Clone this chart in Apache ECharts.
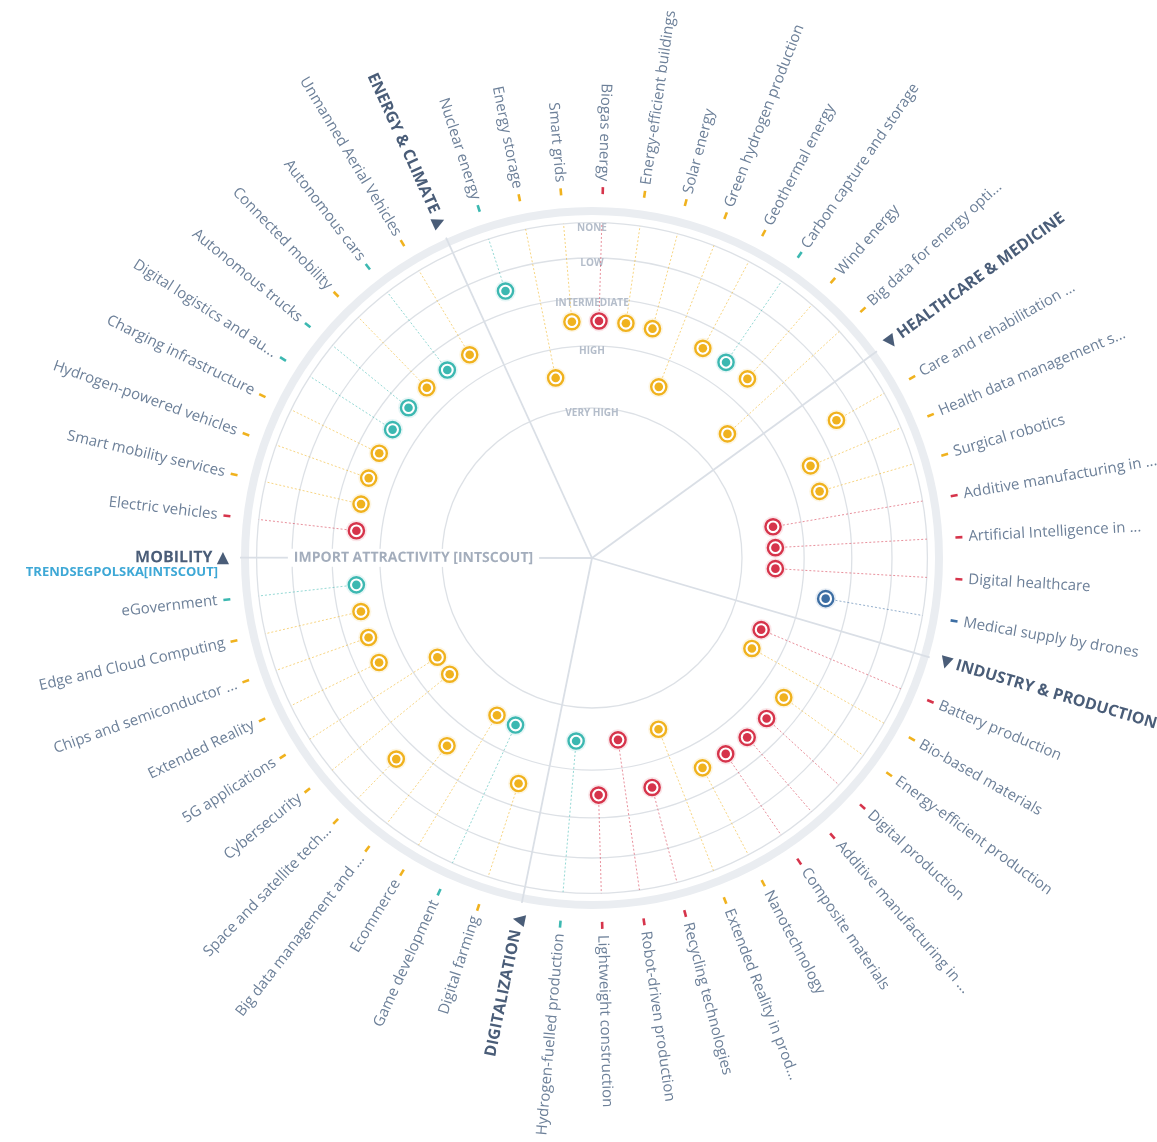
<!DOCTYPE html>
<html><head><meta charset="utf-8">
<script src="https://cdn.jsdelivr.net/npm/echarts@6/dist/echarts.min.js"></script>
<style>html,body{margin:0;padding:0;background:#fff}#c{width:1157px;height:1142px}</style>
</head><body><div id="c"></div><script>
// ---------- data ----------
const levelLabels = ['VERY HIGH', 'HIGH', 'INTERMEDIATE', 'LOW', 'NONE'];
const sectorNames = ['ENERGY & CLIMATE', 'HEALTHCARE & MEDICINE', 'INDUSTRY & PRODUCTION', 'DIGITALIZATION', 'MOBILITY'];
const axisTitle = 'IMPORT ATTRACTIVITY [INTSCOUT]';
const sourceTitle = 'TRENDSEGPOLSKA[INTSCOUT]';

const energyTech = ['Nuclear energy', 'Energy storage', 'Smart grids', 'Biogas energy', 'Energy-efficient buildings', 'Solar energy', 'Green hydrogen production', 'Geothermal energy', 'Carbon capture and storage', 'Wind energy', 'Big data for energy opti...'];
const energyLevel = ['LOW', 'HIGH', 'INTERMEDIATE', 'INTERMEDIATE', 'INTERMEDIATE', 'INTERMEDIATE', 'HIGH', 'INTERMEDIATE', 'INTERMEDIATE', 'INTERMEDIATE', 'HIGH'];
const energyType = ['teal', 'yellow', 'yellow', 'red', 'yellow', 'yellow', 'yellow', 'yellow', 'teal', 'yellow', 'yellow'];

const healthTech = ['Care and rehabilitation ...', 'Health data management s...', 'Surgical robotics', 'Additive manufacturing in ...', 'Artificial Intelligence in ...', 'Digital healthcare', 'Medical supply by drones'];
const healthLevel = ['LOW', 'INTERMEDIATE', 'INTERMEDIATE', 'HIGH', 'HIGH', 'HIGH', 'INTERMEDIATE'];
const healthType = ['yellow', 'yellow', 'yellow', 'red', 'red', 'red', 'blue'];

const industryTech = ['Battery production', 'Bio-based materials', 'Energy-efficient production', 'Digital production', 'Additive manufacturing in ...', 'Composite materials', 'Nanotechnology', 'Extended Reality in prod...', 'Recycling technologies', 'Robot-driven production', 'Lightweight construction', 'Hydrogen-fuelled production'];
const industryLevel = ['HIGH', 'HIGH', 'INTERMEDIATE', 'INTERMEDIATE', 'INTERMEDIATE', 'INTERMEDIATE', 'INTERMEDIATE', 'HIGH', 'INTERMEDIATE', 'HIGH', 'INTERMEDIATE', 'HIGH'];
const industryType = ['red', 'yellow', 'yellow', 'red', 'red', 'red', 'yellow', 'yellow', 'red', 'red', 'red', 'teal'];

const digitalTech = ['Digital farming', 'Game development', 'Ecommerce', 'Big data management and ...', 'Space and satellite tech...', 'Cybersecurity', '5G applications', 'Extended Reality', 'Chips and semiconductor ...', 'Edge and Cloud Computing', 'eGovernment'];
const digitalLevel = ['INTERMEDIATE', 'HIGH', 'HIGH', 'INTERMEDIATE', 'LOW', 'HIGH', 'HIGH', 'INTERMEDIATE', 'INTERMEDIATE', 'INTERMEDIATE', 'INTERMEDIATE'];
const digitalType = ['yellow', 'teal', 'yellow', 'yellow', 'yellow', 'yellow', 'yellow', 'yellow', 'yellow', 'yellow', 'teal'];

const mobilityTech = ['Electric vehicles', 'Smart mobility services', 'Hydrogen-powered vehicles', 'Charging infrastructure', 'Digital logistics and au...', 'Autonomous trucks', 'Connected mobility', 'Autonomous cars', 'Unmanned Aerial Vehicles'];
const mobilityLevel = ['INTERMEDIATE', 'INTERMEDIATE', 'INTERMEDIATE', 'INTERMEDIATE', 'INTERMEDIATE', 'INTERMEDIATE', 'INTERMEDIATE', 'INTERMEDIATE', 'INTERMEDIATE'];
const mobilityType = ['red', 'yellow', 'yellow', 'yellow', 'teal', 'teal', 'yellow', 'teal', 'yellow'];

// ---------- styling ----------
const typeColor = { yellow: '#f0b21e', red: '#d6344b', teal: '#3cb8b1', blue: '#3d6ea3' };
const FONT = "'Open Sans', 'DejaVu Sans', sans-serif";
const LABEL_COLOR = '#6d8099';
const HEADER_COLOR = '#4a5d78';

// ---------- build slots ----------
const sectorData = [
  [energyTech, energyLevel, energyType],
  [healthTech, healthLevel, healthType],
  [industryTech, industryLevel, industryType],
  [digitalTech, digitalLevel, digitalType],
  [mobilityTech, mobilityLevel, mobilityType]
];
const slots = [];
sectorData.forEach((s, si) => {
  slots.push({ kind: 'header', name: sectorNames[si] });
  s[0].forEach((t, i) => slots.push({ kind: 'tech', name: t, level: s[1][i], type: s[2][i] }));
});
const SLOT_COUNT = slots.length;
const headerSlots = [], techSlots = [];
slots.forEach((s, i) => { s.idx = i; (s.kind === 'header' ? headerSlots : techSlots).push(s); });

// radial unit: band boundaries at sqrt(1..5) (equal-area bands), dot at middle of its band
const bandU = k => Math.sqrt(k);
const NONE_U = bandU(levelLabels.length);
const dotU = lvl => bandU(levelLabels.indexOf(lvl) + 0.5);

function radialInfo(api, v) {
  const c = api.coord([0, v]);
  const p = api.coord([1, v]);
  const dx = p[0] - c[0], dy = p[1] - c[1];
  let bearing = Math.atan2(dx, -dy) * 180 / Math.PI; if (bearing < 0) bearing += 360;
  const rightSide = bearing > 4 && bearing < 182;
  const ang = Math.atan2(-dy, dx);
  return { rightSide, rotation: rightSide ? ang : ang + Math.PI, c };
}

const chart = echarts.init(document.getElementById('c'), null, { renderer: 'canvas' });
const topV = (360 - 335.5) / (360 / SLOT_COUNT);

chart.setOption({
  animation: false,
  backgroundColor: '#ffffff',
  polar: { center: [592, 558], radius: 375 },
  angleAxis: { type: 'value', min: 0, max: SLOT_COUNT, startAngle: 114.5, clockwise: true, show: false },
  radiusAxis: { type: 'value', min: 0, max: 2.5, show: false },
  series: [
    { // grid circles + level labels + outer ring
      type: 'custom', coordinateSystem: 'polar', z: 1, silent: true,
      data: levelLabels.map((l, i) => [bandU(i + 1), topV]),
      renderItem: function (params, api) {
        const i = params.dataIndex;
        const c = api.coord([0, 0]);
        const p = api.coord([api.value(0), api.value(1)]);
        const r = Math.hypot(p[0] - c[0], p[1] - c[1]);
        const lp = api.coord([api.value(0) - 0.036, api.value(1)]);
        const children = [
          { type: 'circle', shape: { cx: c[0], cy: c[1], r: r }, style: { fill: 'none', stroke: '#dde1e6', lineWidth: 1.3 } },
          { type: 'text', x: lp[0], y: lp[1], style: { text: levelLabels[i], font: 'bold 10px ' + FONT, fill: '#b4bdca', align: 'center', verticalAlign: 'middle' } }
        ];
        if (i === levelLabels.length - 1) {
          const q = api.coord([347 / 150, 0]);
          children.unshift({ type: 'circle', shape: { cx: c[0], cy: c[1], r: Math.hypot(q[0] - c[0], q[1] - c[1]) }, style: { fill: 'none', stroke: '#eaedf1', lineWidth: 8 } });
        }
        return { type: 'group', children };
      }
    },
    { // sector dividers
      type: 'custom', coordinateSystem: 'polar', z: 2, silent: true,
      data: headerSlots.map(s => [352 / 150, s.idx]),
      renderItem: function (params, api) {
        const c = api.coord([0, api.value(1)]);
        const p = api.coord([api.value(0), api.value(1)]);
        return { type: 'line', shape: { x1: c[0], y1: c[1], x2: p[0], y2: p[1] }, style: { stroke: '#dadfe6', lineWidth: 1.8 } };
      }
    },
    { // axis title on the mobility divider
      type: 'custom', coordinateSystem: 'polar', z: 3, silent: true,
      data: [[1.19, headerSlots[headerSlots.length - 1].idx]],
      renderItem: function (params, api) {
        const p = api.coord([api.value(0), api.value(1)]);
        const info = radialInfo(api, api.value(1));
        return { type: 'text', x: p[0], y: p[1], rotation: info.rotation, style: { text: axisTitle, font: 'bold 14px ' + FONT, fill: '#a3adbc', align: 'center', verticalAlign: 'middle', backgroundColor: '#fff', padding: [2, 6] } };
      }
    },
    { // dotted leader lines + dots
      type: 'custom', coordinateSystem: 'polar', z: 4, silent: true,
      data: techSlots.map(s => [dotU(s.level), s.idx]),
      renderItem: function (params, api) {
        const s = techSlots[params.dataIndex];
        const col = typeColor[s.type];
        const p = api.coord([api.value(0), api.value(1)]);
        const q = api.coord([NONE_U, api.value(1)]);
        const dx = q[0] - p[0], dy = q[1] - p[1], len = Math.hypot(dx, dy);
        const st = [p[0] + dx / len * 10, p[1] + dy / len * 10];
        return { type: 'group', children: [
          { type: 'line', shape: { x1: st[0], y1: st[1], x2: q[0], y2: q[1] }, style: { stroke: col, opacity: 0.55, lineWidth: 1, lineDash: [2, 2] } },
          { type: 'circle', shape: { cx: p[0], cy: p[1], r: 10.5 }, style: { fill: col, opacity: 0.12 } },
          { type: 'circle', shape: { cx: p[0], cy: p[1], r: 7.6 }, style: { fill: '#ffffff', stroke: col, lineWidth: 2.4 } },
          { type: 'circle', shape: { cx: p[0], cy: p[1], r: 4.3 }, style: { fill: col } }
        ] };
      }
    },
    { // technology labels with colour dash
      type: 'custom', coordinateSystem: 'polar', z: 5, silent: true,
      data: techSlots.map(s => [377 / 150, s.idx]),
      renderItem: function (params, api) {
        const s = techSlots[params.dataIndex];
        const v = api.value(1);
        const d1 = api.coord([364 / 150, v]), d2 = api.coord([371 / 150, v]);
        const p = api.coord([api.value(0), v]);
        const info = radialInfo(api, v);
        return { type: 'group', children: [
          { type: 'line', shape: { x1: d1[0], y1: d1[1], x2: d2[0], y2: d2[1] }, style: { stroke: typeColor[s.type], lineWidth: 2.6 } },
          { type: 'text', x: p[0], y: p[1], rotation: info.rotation, style: { text: s.name, font: '15px ' + FONT, fill: LABEL_COLOR, align: info.rightSide ? 'left' : 'right', verticalAlign: 'middle' } }
        ] };
      }
    },
    { // sector headers
      type: 'custom', coordinateSystem: 'polar', z: 5, silent: true,
      data: headerSlots.map(s => [363 / 150, s.idx]),
      renderItem: function (params, api) {
        const s = headerSlots[params.dataIndex];
        const v = api.value(1);
        const p = api.coord([api.value(0), v]);
        const info = radialInfo(api, v);
        const txt = info.rightSide ? '\u25BC ' + s.name : s.name + ' \u25B2';
        const children = [
          { type: 'text', x: p[0], y: p[1], rotation: info.rotation, style: { text: txt, font: 'bold 16px ' + FONT, fill: HEADER_COLOR, align: info.rightSide ? 'left' : 'right', verticalAlign: 'middle' } }
        ];
        if (params.dataIndex === headerSlots.length - 1) {
          children.push({ type: 'text', x: p[0] - 11, y: p[1] + 15, style: { text: sourceTitle, font: 'bold 13px ' + FONT, fill: '#3ea8d6', align: 'right', verticalAlign: 'middle' } });
        }
        return { type: 'group', children };
      }
    }
  ]
});
</script></body></html>
